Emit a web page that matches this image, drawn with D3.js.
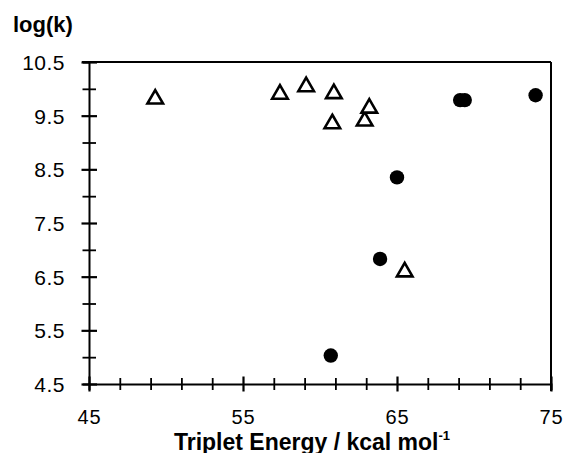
<!DOCTYPE html>
<html>
<head>
<meta charset="utf-8">
<script src="https://cdn.jsdelivr.net/npm/d3@7"></script>
<style>
  html, body { margin: 0; padding: 0; background: #fff; }
  svg { display: block; font-family: "Liberation Sans", Arial, Helvetica, sans-serif; }
</style>
</head>
<body>
<svg id="chart" width="566" height="453"></svg>
<script>
// Data
const triangleX = [49.3, 57.4, 59.1, 60.9, 60.8, 62.9, 63.2, 65.5];
const triangleY = [9.81, 9.90, 10.04, 9.91, 9.35, 9.40, 9.64, 6.59];
const circleX = [69.1, 69.4, 74.0, 65.0, 63.9, 60.7];
const circleY = [9.79, 9.79, 9.88, 8.35, 6.83, 5.03];
const xTickValues = [45, 47, 49, 51, 53, 55, 57, 59, 61, 63, 65, 67, 69, 71, 73, 75];
const xTickLabels = [45, 55, 65, 75];
const yTickValues = [4.5, 5.0, 5.5, 6.0, 6.5, 7.0, 7.5, 8.0, 8.5, 9.0, 9.5, 10.0, 10.5];
const yTickLabels = [4.5, 5.5, 6.5, 7.5, 8.5, 9.5, 10.5];
const yTitle = "log(k)";
const xTitle = "Triplet Energy / kcal mol";
const xTitleSup = "-1";

const W = 566, H = 453;
const margin = {left: 89, right: 15, top: 62, bottom: 69};
const svg = d3.select("#chart");

const x = d3.scaleLinear().domain([45, 75]).range([margin.left, W - margin.right]);
const y = d3.scaleLinear().domain([4.5, 10.5]).range([H - margin.bottom, margin.top]);

const isXMajor = d => xTickLabels.includes(d);
const isYMajor = d => yTickLabels.some(v => Math.abs(v - d) < 1e-9);

// frame: top and right lines
svg.append("line")
  .attr("x1", x(45) - 7).attr("x2", x(75)).attr("y1", y(10.5)).attr("y2", y(10.5))
  .attr("stroke", "#000").attr("stroke-width", 2);
svg.append("line")
  .attr("x1", x(75)).attr("x2", x(75)).attr("y1", y(10.5)).attr("y2", y(4.5) + 7)
  .attr("stroke", "#000").attr("stroke-width", 2);

// X axis
const gx = svg.append("g")
  .attr("transform", `translate(0,${y(4.5)})`)
  .call(d3.axisBottom(x).tickValues(xTickValues).tickSizeOuter(0).tickSize(6)
    .tickFormat(d => isXMajor(d) ? d : ""));
gx.select(".domain").attr("stroke-width", 2);
gx.selectAll(".tick line")
  .attr("y1", d => isXMajor(d) ? -7.5 : -6)
  .attr("y2", d => isXMajor(d) ? 7.5 : 6)
  .attr("stroke-width", d => isXMajor(d) ? 2.2 : 1.8);
gx.selectAll(".tick text")
  .attr("y", 40).attr("dy", null)
  .attr("font-size", 20).attr("fill", "#000")
  .style("letter-spacing", "0.8px");

// Y axis
const gy = svg.append("g")
  .attr("transform", `translate(${x(45)},0)`)
  .call(d3.axisLeft(y).tickValues(yTickValues).tickSizeOuter(0).tickSize(6)
    .tickFormat(d => isYMajor(d) ? d3.format(".1f")(d) : ""));
gy.select(".domain").attr("stroke-width", 2);
gy.selectAll(".tick line")
  .attr("x1", d => isYMajor(d) ? -7.5 : -6.5)
  .attr("x2", d => isYMajor(d) ? 8 : 7)
  .attr("stroke-width", d => isYMajor(d) ? 2.2 : 1.8);
gy.selectAll(".tick text")
  .attr("x", -24).attr("dy", "0.35em")
  .attr("font-size", 21).attr("fill", "#000")
  .style("letter-spacing", "0.5px");

// Triangles (open)
const tri = d3.symbol().type(d3.symbolTriangle).size(105);
svg.append("g").selectAll("path")
  .data(d3.range(triangleX.length))
  .join("path")
  .attr("d", tri)
  .attr("transform", i => `translate(${x(triangleX[i])},${y(triangleY[i])})`)
  .attr("fill", "#fff").attr("stroke", "#000").attr("stroke-width", 2.6)
  .attr("stroke-linejoin", "miter");

// Circles (filled)
svg.append("g").selectAll("circle")
  .data(d3.range(circleX.length))
  .join("circle")
  .attr("cx", i => x(circleX[i]))
  .attr("cy", i => y(circleY[i]))
  .attr("r", 7.2)
  .attr("fill", "#000");

// Titles
svg.append("text")
  .attr("x", 13).attr("y", 32)
  .attr("font-size", 22).attr("font-weight", "bold")
  .text(yTitle);

const xt = svg.append("text")
  .attr("x", 312).attr("y", 449.5)
  .attr("text-anchor", "middle")
  .attr("font-size", 23).attr("font-weight", "bold");
xt.append("tspan").text(xTitle);
xt.append("tspan").attr("dy", -10).attr("font-size", 13).text(xTitleSup);
</script>
</body>
</html>
